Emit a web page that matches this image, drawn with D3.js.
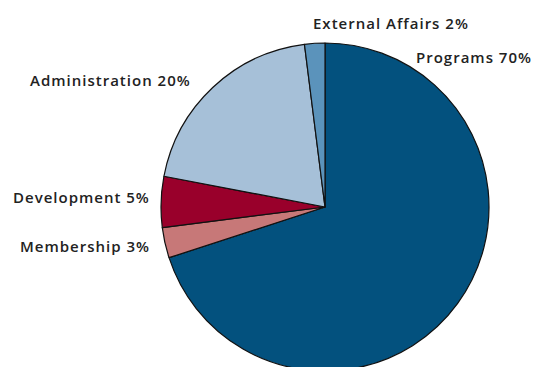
<!DOCTYPE html>
<html>
<head>
<meta charset="utf-8">
<script src="https://cdn.jsdelivr.net/npm/d3@7"></script>
<style>
  body { margin: 0; background: #fff; }
  text { font-family: "Open Sans", "DejaVu Sans", sans-serif; font-weight: 600; fill: #222; }
</style>
</head>
<body>
<svg width="549" height="367"></svg>
<script>
// Data
const categories = ["Programs", "Membership", "Development", "Administration", "External Affairs"];
const shares = [70, 3, 5, 20, 2];
const colors = ["#03517e", "#c77878", "#99002b", "#a6c0d8", "#5b93bb"];

// Label placement (left x, middle y)
const labelPos = [[416, 58], [20, 247], [13, 198], [30, 81], [313, 24]];

const width = 549;
const height = 367;
const cx = 325, cy = 207, radius = 164;

const svg = d3.select("svg")
  .attr("width", width)
  .attr("height", height);

const pie = d3.pie().sort(null).value(d => d.value);
const arc = d3.arc().innerRadius(0).outerRadius(radius);

const data = categories.map((c, i) => ({name: c, value: shares[i], color: colors[i]}));

const g = svg.append("g").attr("transform", "translate(" + cx + "," + cy + ")");

g.selectAll("path")
  .data(pie(data))
  .enter()
  .append("path")
  .attr("d", arc)
  .attr("fill", d => d.data.color)
  .attr("stroke", "#111")
  .attr("stroke-width", 1.2)
  .attr("stroke-linejoin", "round");

svg.selectAll("text.label")
  .data(data)
  .enter()
  .append("text")
  .attr("class", "label")
  .attr("x", (d, i) => labelPos[i][0])
  .attr("y", (d, i) => labelPos[i][1])
  .attr("dy", "0.35em")
  .attr("font-size", 15)
  .attr("letter-spacing", 1)
  .text(d => d.name + " " + d.value + "%");
</script>
</body>
</html>
